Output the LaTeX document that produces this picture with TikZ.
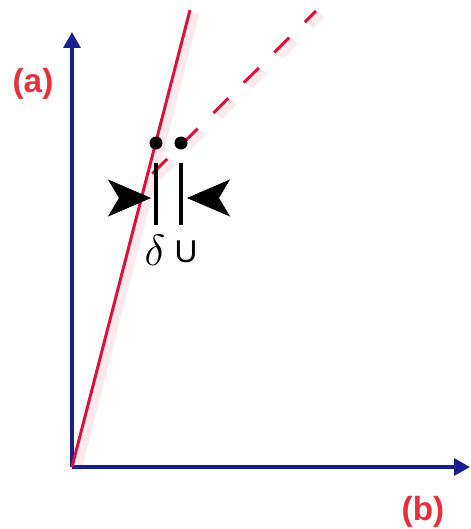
\documentclass[tikz,border=0pt]{standalone}
\usepackage{fontspec}
\setsansfont{Liberation Sans}
\usepackage{tikz}
\usetikzlibrary{arrows.meta,calc}
\definecolor{axisc}{HTML}{1A1F8C}
\definecolor{linec}{HTML}{E0103C}
\definecolor{labc}{HTML}{E8303C}

\begin{document}
\begin{tikzpicture}[x=0.02cm,y=0.02cm,
  axis/.style={axisc,line width=2pt,-{Triangle[length=9pt,width=9.5pt]}},
  ray/.style={linec,line width=1.7pt},
  glow/.style={linec!9,line width=5pt},
  broken/.style={dash pattern=on 0.42cm off 0.44cm,dash phase=0.68cm},
  bar/.style={black,line width=2.1pt},
  dot/.style={circle,fill=black,inner sep=0pt,minimum size=7.4pt},
  pinch/.style={black,line width=0.4pt,-{Stealth[length=0.86cm,width=0.74cm,inset=0.22cm]}},
  lab/.style={text=labc,font=\sffamily\bfseries\fontsize{19}{22}\selectfont},
  sym/.style={inner sep=0pt}]
  \useasboundingbox (0,0) rectangle (471,529);
  \coordinate (O) at (72,62);
  \coordinate (ytip) at (72,497);
  \coordinate (xtip) at (470,62);
  \coordinate (stop) at (190,519);
  \coordinate (meet) at (146,349);
  \coordinate (dtop) at (316,518);
  % soft halo beside the red lines
  \draw[glow] ($(O)+(5,-3)$) -- ($(stop)+(5,-3)$);
  \draw[glow,broken] ($(meet)+(5,-3)$) -- ($(dtop)+(5,-3)$);
  % axes
  \draw[axis] (O) -- (ytip);
  \draw[axis] (O) -- (xtip);
  \node[lab] (la) at (33,445) {(a)};
  \node[lab] (lb) at (423,17) {(b)};
  % the two lines
  \draw[ray] (O) -- (stop);
  \draw[ray,broken] (meet) -- (dtop);
  % gap marker
  \node[dot] (dl) at (156,386) {};
  \node[dot] (dr) at (181,386) {};
  \coordinate (bl1) at (156,366); \coordinate (bl2) at (156,304);
  \coordinate (br1) at (181,366); \coordinate (br2) at (181,304);
  \draw[bar] (bl1) -- (bl2);
  \draw[bar] (br1) -- (br2);
  \coordinate (al) at (135,331); \coordinate (alt) at (151,331);
  \coordinate (ar) at (203,331); \coordinate (art) at (187,331);
  \draw[pinch] (al) -- (alt);
  \draw[pinch] (ar) -- (art);
  \node[sym,font=\fontsize{27}{29}\selectfont] (del) at (155,279) {$\delta$};
  \node[sym,font=\sffamily\fontsize{18}{20}\selectfont] (uu) at (186,277) {U};
\end{tikzpicture}
\end{document}
